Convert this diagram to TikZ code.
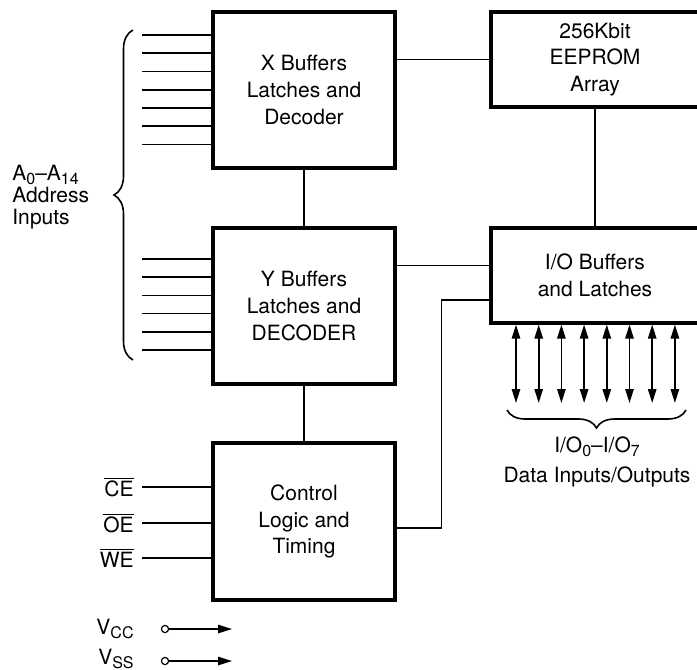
\documentclass[tikz,border=0pt]{standalone}
\usepackage{fontspec}
\setmainfont{TeX Gyre Heros}
\usetikzlibrary{arrows.meta,decorations.pathreplacing}
\newcommand{\subidx}[1]{\raisebox{-0.4ex}{\fontsize{8}{8}\selectfont #1}}

\begin{document}
\begin{tikzpicture}[x=0.5pt,y=-0.5pt,
  box/.style={shape=rectangle,draw,line width=1.6pt,align=center,inner sep=0pt,
    font=\fontsize{10.5}{13.4}\selectfont},
  wire/.style={line width=0.8pt},
  lbl/.style={font=\fontsize{10.5}{11}\selectfont,inner sep=0pt},
  pin/.style={shape=circle,draw,line width=0.6pt,minimum size=3.6pt,inner sep=0pt},
  bus/.style={line width=0.8pt,{Triangle[length=7pt,width=4.2pt]}-{Triangle[length=7pt,width=4.2pt]}},
  supply/.style={line width=0.8pt,-{Triangle[length=7pt,width=4.2pt]}},
  grp/.style={line width=0.8pt,decorate,decoration={brace,amplitude=#1}}]
\clip (0,0) rectangle (697,670);

\path (304,90) node (xbuf) [box,minimum width=91pt,minimum height=78pt] {X Buffers\\Latches and\\Decoder};
\path (304,306) node (ybuf) [box,minimum width=91pt,minimum height=78pt] {Y Buffers\\Latches and\\DECODER};
\path (304,521.5) node (ctrl) [box,minimum width=91pt,minimum height=78.5pt] {Control\\Logic and\\Timing};
\path (595,59.5) node (eeprom) [box,minimum width=104pt,minimum height=47.5pt] {256Kbit\\EEPROM\\Array};
\path (595,275.5) node (io) [box,minimum width=104pt,minimum height=47.5pt] {I/O Buffers\\and Latches};

% links between blocks
\draw [wire] (eeprom.west) -- (eeprom.west -| xbuf.east);
\draw [wire] (xbuf.south) -- (ybuf.north);
\draw [wire] (ybuf.south) -- (ctrl.north);
\draw [wire] (eeprom.south) -- (io.north);
\draw [wire] ([yshift=5pt]io.west) -- ([yshift=5pt]io.west -| ybuf.east);
\draw [wire] ([yshift=-3.2pt]ctrl.east) -| ([xshift=-24pt,yshift=-12.2pt]io.west) -- ([yshift=-12.2pt]io.west);

% address inputs
\foreach \i in {0,...,6} {
  \path (142,{35+18.25*\i}) coordinate (ax\i);
  \draw [wire] (ax\i) -- (ax\i -| xbuf.west);
}
\foreach \i in {0,...,5} {
  \path (142,{259+18.2*\i}) coordinate (ay\i);
  \draw [wire] (ay\i) -- (ay\i -| ybuf.west);
}
\path (133,360) coordinate (abot);
\path (133,30) coordinate (atop);
\draw [grp=9.5pt] (abot) -- (atop);
\path (12,197) node (addr) [lbl,anchor=west,align=left] {A\subidx{0}--A\subidx{14}\\Address\\Inputs};

% control inputs
\path (142,487) node (ce) [lbl,anchor=east,inner xsep=4pt] {$\overline{\mbox{CE}}$};
\path (142,523) node (oe) [lbl,anchor=east,inner xsep=4pt] {$\overline{\mbox{OE}}$};
\path (142,558) node (we) [lbl,anchor=east,inner xsep=4pt] {$\overline{\mbox{WE}}$};
\draw [wire] (ce.east) -- (ce.east -| ctrl.west);
\draw [wire] (oe.east) -- (oe.east -| ctrl.west);
\draw [wire] (we.east) -- (we.east -| ctrl.west);

% supplies
\path (142,629) node (vcc) [lbl,anchor=east,inner xsep=4pt] {V\subidx{CC}};
\path (142,659) node (vss) [lbl,anchor=east,inner xsep=4pt] {V\subidx{SS}};
\path (165,629) node (vccpin) [pin] {};
\path (165,661) node (vsspin) [pin] {};
\path (232,629) coordinate (vccend);
\path (232,661) coordinate (vssend);
\draw [supply] (vccpin) -- (vccend);
\draw [supply] (vsspin) -- (vssend);

% data bus
\foreach \i in {0,...,7} {
  \path ({516+22.7*\i},403) coordinate (dq\i);
  \draw [bus] (dq\i |- io.south) -- (dq\i);
}
\path (686,410) coordinate (dbr);
\path (507,410) coordinate (dbl);
\draw [grp=9pt] (dbr) -- (dbl);
\path (597,447) node (dqname) [lbl] {I/O\subidx{0}--I/O\subidx{7}};
\path (597,477) node (dqtext) [lbl] {Data Inputs/Outputs};
\end{tikzpicture}
\end{document}
